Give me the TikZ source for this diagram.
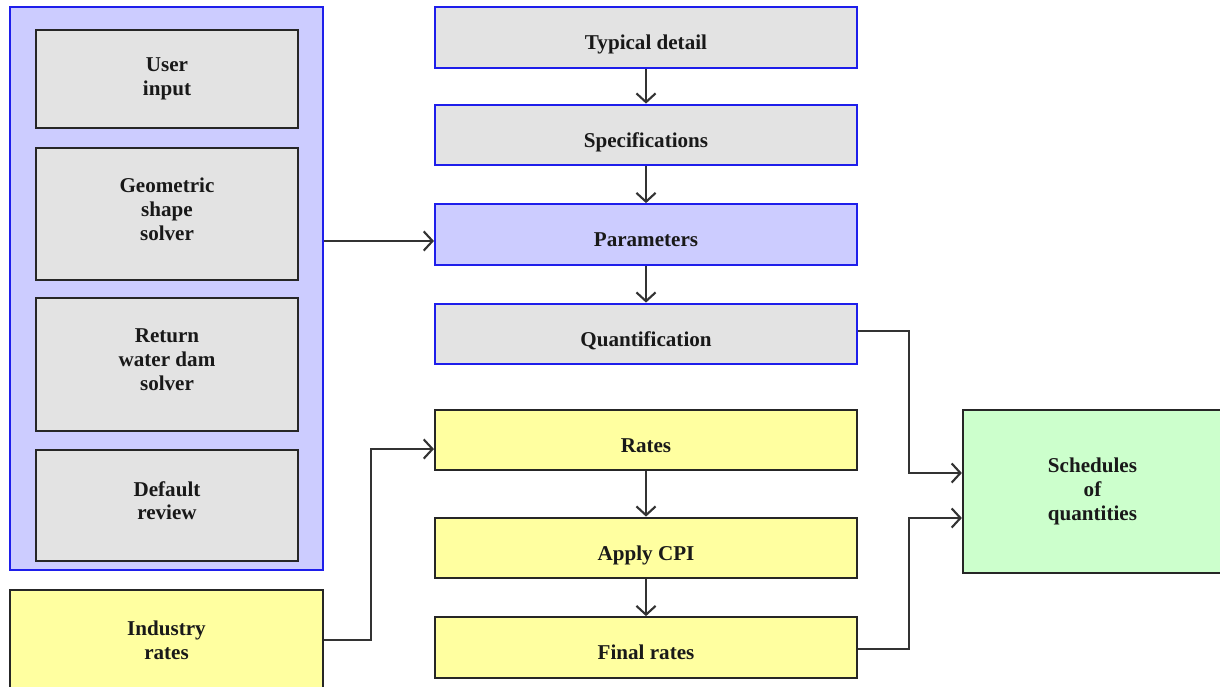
\documentclass[tikz,border=0pt]{standalone}
\usepackage{fontspec}
\setmainfont{Liberation Serif}
\usetikzlibrary{arrows.meta,calc}
\definecolor{boxblue}{RGB}{30,30,235}
\definecolor{lavender}{RGB}{204,204,255}
\definecolor{boxgray}{RGB}{227,227,227}
\definecolor{paleyellow}{RGB}{255,255,160}
\definecolor{palegreen}{RGB}{204,255,204}
\tikzset{
	box/.style={draw=black!85, line width=1.4pt, align=center, inner sep=0pt,
		font=\fontsize{15}{16.8}\selectfont\bfseries, text=black!90},
	solver/.style={box, fill=boxgray, minimum width=6.55cm},
	stage/.style={box, minimum width=10.55cm, minimum height=1.52cm, text height=19.6pt, text depth=2pt},
	link/.style={->, line width=1.5pt, draw=black!80}
}
\begin{document}
\begin{tikzpicture}[x=0.025cm, y=-0.025cm, >={Straight Barb[length=2.2mm,width=4.8mm]}]
		\useasboundingbox (0,0) rectangle (1220,686);
		% input side
		\node[box, draw=boxblue, fill=lavender, minimum width=7.82cm, minimum height=14.07cm] (solvers) at (166.5,288.5) {};
		\node[solver, minimum height=2.45cm] (user) at (167,79) {User\\input};
		\node[solver, minimum height=3.3cm, text depth=7pt] (geometric) at (167,214) {Geometric\\shape\\solver};
		\node[solver, minimum height=3.32cm, text depth=7pt] (returndam) at (167,364.5) {Return\\water dam\\solver};
		\node[solver, minimum height=2.77cm, text depth=7pt] (review) at (167,505.5) {Default\\review};
		\node[box, fill=paleyellow, minimum width=7.82cm, minimum height=2.5cm] (industry) at (166.5,640) {Industry\\rates};
		% quantity chain
		\node[stage, draw=boxblue, fill=boxgray] (typical) at (646,37.5) {Typical detail};
		\node[stage, draw=boxblue, fill=boxgray] (specs) at (646,135) {Specifications};
		\node[stage, draw=boxblue, fill=lavender] (params) at (646,234.5) {Parameters};
		\node[stage, draw=boxblue, fill=boxgray] (quant) at (646,334) {Quantification};
		% rate chain
		\node[stage, fill=paleyellow] (rates) at (646,440) {Rates};
		\node[stage, fill=paleyellow] (cpi) at (646,548) {Apply CPI};
		\node[stage, fill=paleyellow] (final) at (646,647.5) {Final rates};
		% output
		\node[box, fill=palegreen, minimum width=6.48cm, minimum height=4.07cm] (schedules) at (1092.5,491.5) {Schedules\\of\\quantities};
		\coordinate (paramsin) at ($(params.west)+(0,6.5)$);
		\coordinate (ratesin) at ($(rates.west)+(0,9)$);
		\coordinate (quantin) at ($(schedules.west)+(0,-18.5)$);
		\coordinate (finalin) at ($(schedules.west)+(0,26.5)$);
		\draw[link] (typical) -- (specs);
		\draw[link] (specs) -- (params);
		\draw[link] (params) -- (quant);
		\draw[link] (rates) -- (cpi);
		\draw[link] (cpi) -- (final);
		\draw[link] (solvers.east |- paramsin) -- (paramsin);
		\draw[link] (industry.east) -- ++(47,0) |- (ratesin);
		\draw[link] ($(quant.east)+(0,-3)$) -- ++(51,0) |- (quantin);
		\draw[link] ($(final.east)+(0,1.5)$) -- ++(51,0) |- (finalin);
		\end{tikzpicture}
\end{document}
